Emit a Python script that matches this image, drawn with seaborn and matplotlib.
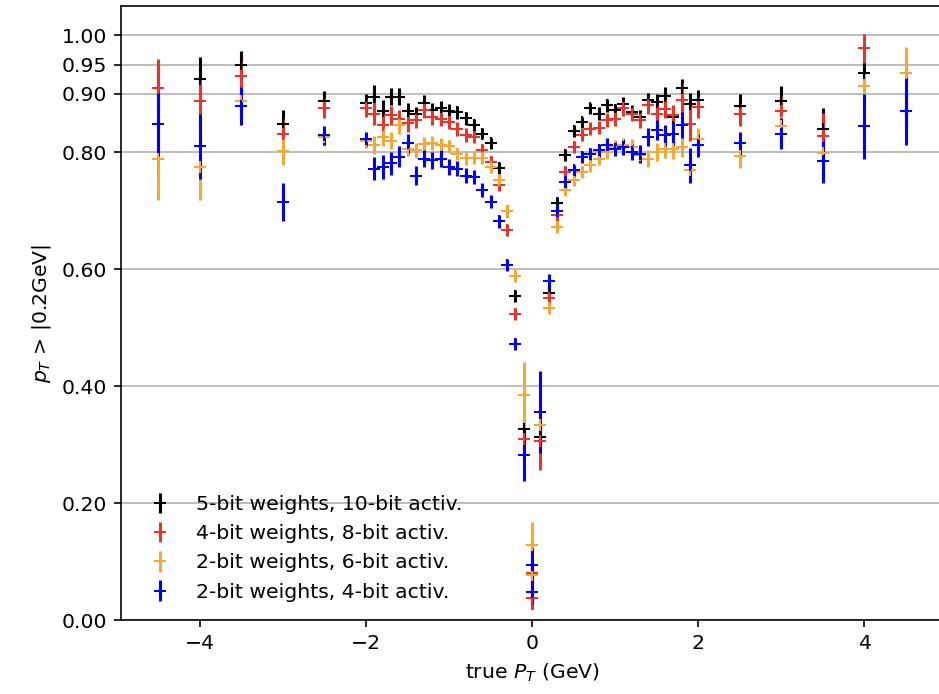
import matplotlib
matplotlib.use("Agg")
import matplotlib.pyplot as plt
import pandas as pd
import seaborn as sns

# bins de pT (GeV)
pt_true = [-4.5, -4.0, -3.5, -3.0, -2.5,
           -2.0, -1.9, -1.8, -1.7, -1.6, -1.5, -1.4, -1.3, -1.2, -1.1,
           -1.0, -0.9, -0.8, -0.7, -0.6, -0.5, -0.4, -0.3, -0.2, -0.1,
           0.0, 0.0,
           0.1, 0.2, 0.3, 0.4, 0.5, 0.6, 0.7, 0.8, 0.9, 1.0,
           1.1, 1.2, 1.3, 1.4, 1.5, 1.6, 1.7, 1.8, 1.9, 2.0,
           2.5, 3.0, 3.5, 4.0, 4.5]

eff_5b10a = [0.909, 0.925, 0.950, 0.848, 0.887,
             0.885, 0.895, 0.870, 0.895, 0.895, 0.870, 0.865, 0.885, 0.872, 0.875,
             0.870, 0.868, 0.858, 0.846, 0.832, 0.815, 0.773, 0.700, 0.554, 0.326,
             0.080, 0.038,
             0.313, 0.560, 0.714, 0.795, 0.836, 0.851, 0.875, 0.866, 0.880, 0.872,
             0.883, 0.868, 0.860, 0.889, 0.886, 0.897, 0.860, 0.909, 0.883, 0.889,
             0.879, 0.887, 0.839, 0.935, 0.870]
err_5b10a = [0.040, 0.037, 0.023, 0.025, 0.017,
             0.014, 0.020, 0.020, 0.015, 0.015, 0.015, 0.013, 0.013, 0.012, 0.012,
             0.012, 0.011, 0.011, 0.010, 0.010, 0.010, 0.010, 0.010, 0.010, 0.020,
             0.020, 0.020,
             0.020, 0.010, 0.010, 0.010, 0.010, 0.010, 0.010, 0.011, 0.011, 0.011,
             0.012, 0.012, 0.013, 0.013, 0.014, 0.015, 0.016, 0.017, 0.018, 0.018,
             0.020, 0.027, 0.037, 0.020, 0.030]

eff_4b8a = [0.909, 0.887, 0.930, 0.831, 0.875,
            0.875, 0.866, 0.846, 0.863, 0.857, 0.850, 0.855, 0.872, 0.860, 0.857,
            0.852, 0.840, 0.830, 0.826, 0.803, 0.783, 0.744, 0.667, 0.523, 0.309,
            0.080, 0.038,
            0.306, 0.550, 0.692, 0.766, 0.809, 0.829, 0.840, 0.842, 0.855, 0.857,
            0.875, 0.866, 0.855, 0.880, 0.866, 0.874, 0.863, 0.889, 0.849, 0.877,
            0.865, 0.870, 0.827, 0.978, 0.870]
err_4b8a = [0.050, 0.040, 0.025, 0.025, 0.017,
            0.015, 0.020, 0.020, 0.016, 0.016, 0.015, 0.014, 0.014, 0.013, 0.013,
            0.012, 0.012, 0.012, 0.011, 0.011, 0.010, 0.010, 0.010, 0.010, 0.020,
            0.020, 0.020,
            0.050, 0.010, 0.010, 0.010, 0.010, 0.010, 0.011, 0.011, 0.012, 0.012,
            0.013, 0.013, 0.014, 0.014, 0.015, 0.016, 0.017, 0.030, 0.030, 0.018,
            0.020, 0.027, 0.040, 0.025, 0.030]

eff_2b6a = [0.788, 0.774, 0.887, 0.802, 0.826,
            0.820, 0.812, 0.826, 0.820, 0.846, 0.806, 0.803, 0.814, 0.815, 0.813,
            0.810, 0.797, 0.790, 0.790, 0.790, 0.775, 0.752, 0.700, 0.588, 0.385,
            0.128, 0.077,
            0.333, 0.533, 0.672, 0.735, 0.752, 0.766, 0.778, 0.789, 0.800, 0.809,
            0.812, 0.809, 0.795, 0.789, 0.800, 0.806, 0.806, 0.809, 0.770, 0.823,
            0.793, 0.844, 0.798, 0.913, 0.935]
err_2b6a = [0.070, 0.056, 0.025, 0.023, 0.015,
            0.013, 0.015, 0.015, 0.014, 0.014, 0.013, 0.013, 0.012, 0.012, 0.012,
            0.011, 0.011, 0.011, 0.010, 0.010, 0.010, 0.010, 0.010, 0.010, 0.057,
            0.040, 0.020,
            0.030, 0.010, 0.010, 0.010, 0.010, 0.010, 0.011, 0.011, 0.012, 0.012,
            0.013, 0.013, 0.014, 0.014, 0.015, 0.016, 0.017, 0.018, 0.020, 0.018,
            0.020, 0.020, 0.020, 0.025, 0.045]

eff_2b4a = [0.848, 0.810, 0.879, 0.715, 0.829,
            0.823, 0.772, 0.775, 0.781, 0.792, 0.815, 0.760, 0.789, 0.786, 0.789,
            0.775, 0.772, 0.760, 0.757, 0.735, 0.715, 0.682, 0.607, 0.472, 0.282,
            0.094, 0.048,
            0.356, 0.580, 0.700, 0.749, 0.769, 0.792, 0.797, 0.803, 0.812, 0.806,
            0.809, 0.800, 0.797, 0.826, 0.838, 0.829, 0.832, 0.846, 0.778, 0.812,
            0.815, 0.832, 0.785, 0.844, 0.870]
err_2b4a = [0.055, 0.055, 0.033, 0.033, 0.016,
            0.012, 0.020, 0.020, 0.020, 0.018, 0.017, 0.016, 0.015, 0.015, 0.014,
            0.014, 0.013, 0.013, 0.012, 0.012, 0.011, 0.011, 0.010, 0.010, 0.045,
            0.030, 0.020,
            0.070, 0.012, 0.010, 0.010, 0.010, 0.010, 0.011, 0.011, 0.012, 0.012,
            0.013, 0.014, 0.015, 0.016, 0.017, 0.018, 0.020, 0.022, 0.030, 0.020,
            0.019, 0.026, 0.038, 0.055, 0.058]

etiquetas = ["5-bit weights, 10-bit activ.", "4-bit weights, 8-bit activ.",
             "2-bit weights, 6-bit activ.", "2-bit weights, 4-bit activ."]
colores = ["black", "#e8352c", "#f5a832", "blue"]
y_ticks = [0.0, 0.2, 0.4, 0.6, 0.8, 0.9, 0.95, 1.0]

# tabla larga para recorrer las series
series = [(eff_5b10a, err_5b10a), (eff_4b8a, err_4b8a),
          (eff_2b6a, err_2b6a), (eff_2b4a, err_2b4a)]
df = pd.concat([pd.DataFrame({"pt": pt_true, "eff": e, "err": s, "modelo": lab})
                for (e, s), lab in zip(series, etiquetas)], ignore_index=True)

sns.set_style("ticks", {"axes.edgecolor": "black", "xtick.color": "black",
                        "ytick.color": "black", "text.color": "black",
                        "axes.labelcolor": "black", "grid.color": "#b0b0b0"})
plt.rcParams["font.family"] = ["DejaVu Sans"]

dpi = 146.7
fig = plt.figure(figsize=(939 / dpi, 694 / dpi), dpi=dpi)
ax = fig.add_axes([0.1289, 0.1066, 0.8755, 0.8847])

for lab, col in zip(etiquetas, colores):
    d = df[df["modelo"] == lab]
    ax.errorbar(d["pt"], d["eff"], yerr=d["err"], fmt="+", color=col,
                ms=6, label=lab)

ax.set_xlim(-4.95, 4.95)
ax.set_ylim(0, 1.05)
ax.set_yticks(y_ticks)
ax.set_yticklabels([f"{t:.2f}" for t in y_ticks])
ax.yaxis.grid(True, color="#b0b0b0", lw=0.8)
ax.set_axisbelow(True)
ax.set_xlabel("true $P_T$ (GeV)")
ax.set_ylabel("$p_T$ > |0.2GeV|")
ax.legend(loc="lower left", frameon=False)

fig.savefig("out.png", dpi=dpi)
